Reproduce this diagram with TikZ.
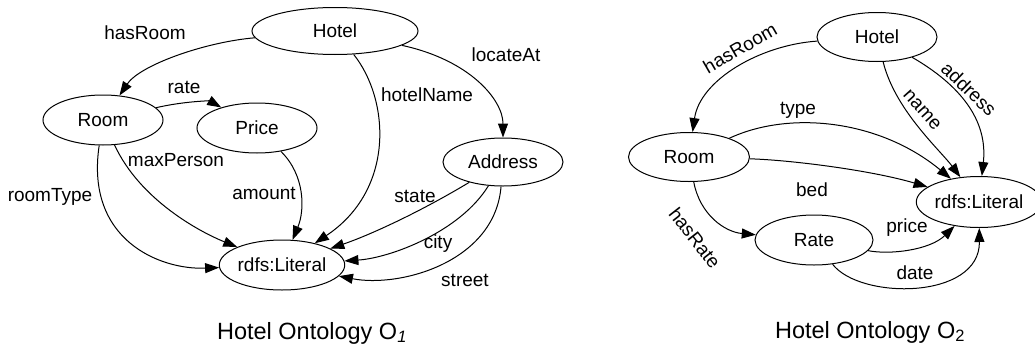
\documentclass[tikz,border=0pt]{standalone}
\usepackage{fontspec}
\setmainfont{Liberation Sans}
\usetikzlibrary{shapes.geometric,arrows.meta}
\begin{document}
\begin{tikzpicture}[x=1pt,y=-1pt,
  cls/.style={draw,ellipse,line width=1pt,inner sep=0pt,font=\fontsize{19}{21}\selectfont},
  rel/.style={draw,line width=1pt,-{Triangle[length=14pt,width=10pt]}},
  lbl/.style={font=\fontsize{19}{21}\selectfont,inner sep=1pt},
  captiontext/.style={font=\fontsize{23.5}{26}\selectfont}]
\useasboundingbox (0,0) rectangle (1035,348);

% ---------- ontology O1 ----------
\node[cls,minimum width=166pt,minimum height=47pt] (h1) at (335,31) {Hotel};
\node[cls,minimum width=120pt,minimum height=50pt] (r1) at (103,120) {Room};
\node[cls,minimum width=120pt,minimum height=50pt] (p1) at (257,128) {Price};
\node[cls,minimum width=120pt,minimum height=48pt] (a1) at (503,162) {Address};
\node[cls,minimum width=120pt,minimum height=50pt] (l1) at (282,265) {rdfs:Literal};

\draw[rel] (h1) .. controls (205,42) and (140,65) .. (r1);
\draw[rel] (r1) .. controls (185,101) and (210,101) .. (p1);
\draw[rel] (h1) .. controls (390,100) and (395,190) .. (l1);
\draw[rel] (h1) .. controls (470,60) and (503,100) .. (a1);
\draw[rel] (r1) .. controls (140,200) and (200,232) .. (l1);
\draw[rel] (r1) .. controls (85,240) and (160,270) .. (l1);
\draw[rel] (p1) .. controls (305,175) and (305,210) .. (l1);
\draw[rel] (a1) .. controls (420,212) and (370,235) .. (l1);
\draw[rel] (a1) .. controls (460,232) and (390,258) .. (l1);
\draw[rel] (a1) .. controls (495,262) and (400,288) .. (l1);

\node[lbl] (t1) at (145,33) {hasRoom};
\node[lbl] (t2) at (184,87) {rate};
\node[lbl] (t3) at (427,95) {hotelName};
\node[lbl] (t4) at (506,55) {locateAt};
\node[lbl] (t5) at (176,160) {maxPerson};
\node[lbl] (t6) at (50,197) {roomType};
\node[lbl] (t7) at (264,193) {amount};
\node[lbl] (t8) at (415,196) {state};
\node[lbl] (t9) at (438,244) {city};
\node[lbl] (t10) at (465,280) {street};

\node[captiontext] (c1) at (312,333) {Hotel Ontology O\textsubscript{\textit{1}}};

% ---------- ontology O2 ----------
\node[cls,minimum width=120pt,minimum height=49pt] (h2) at (877,37) {Hotel};
\node[cls,minimum width=121pt,minimum height=49pt] (r2) at (689,157) {Room};
\node[cls,minimum width=112pt,minimum height=51pt] (l2) at (979,202) {rdfs:Literal};
\node[cls,minimum width=118pt,minimum height=50pt] (ra2) at (814,240) {Rate};

\draw[rel] (h2) .. controls (760,45) and (700,80) .. (r2);
\draw[rel] (h2) .. controls (895,110) and (940,150) .. (l2);
\draw[rel] (h2) .. controls (960,85) and (988,120) .. (l2);
\draw[rel] (r2) .. controls (790,110) and (880,120) .. (l2);
\draw[rel] (r2) .. controls (790,160) and (870,170) .. (l2);
\draw[rel] (r2) .. controls (700,215) and (725,232) .. (ra2);
\draw[rel] (ra2) .. controls (890,255) and (930,250) .. (l2);
\draw[rel] (ra2) .. controls (860,300) and (980,300) .. (l2);

\node[lbl,rotate=30] (u1) at (740,48) {hasRoom};
\node[lbl,rotate=-48] (u2) at (922,110) {name};
\node[lbl,rotate=-44] (u3) at (969,89) {address};
\node[lbl] (u4) at (798,110) {type};
\node[lbl] (u5) at (812,190) {bed};
\node[lbl,rotate=-52] (u6) at (695,238) {hasRate};
\node[lbl] (u7) at (907,228) {price};
\node[lbl] (u8) at (915,273) {date};

\node[captiontext] (c2) at (870,332) {Hotel Ontology O\textsubscript{2}};
\end{tikzpicture}
\end{document}
